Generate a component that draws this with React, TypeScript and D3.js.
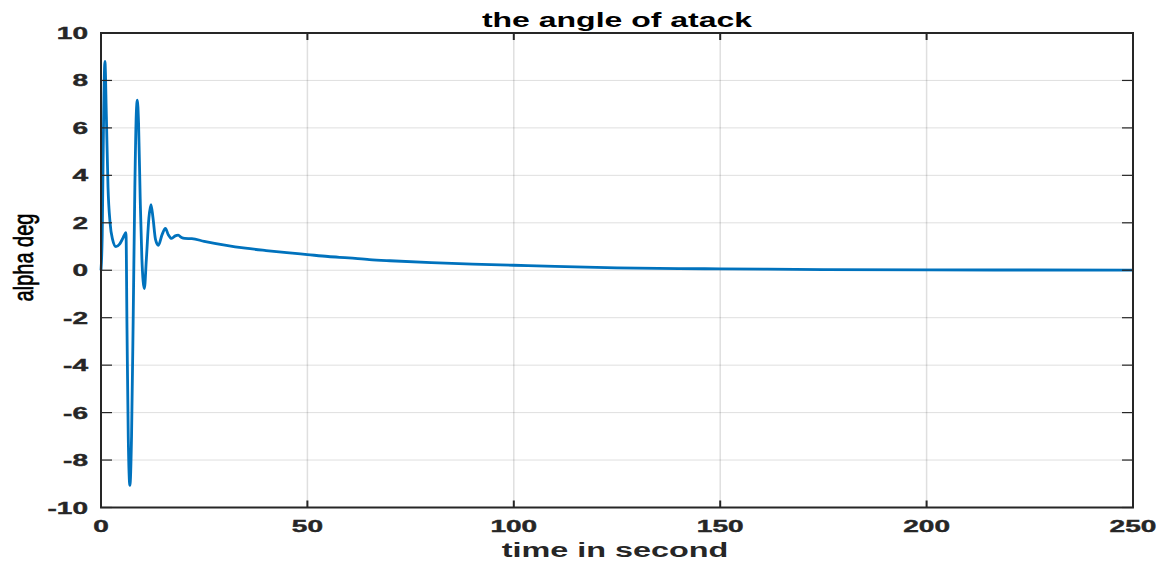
import React from "react";
import * as d3 from "d3";

const title = "the angle of atack";
const xLabel = "time in second";
const yLabel = "alpha deg";

const xTicks = [0, 50, 100, 150, 200, 250];
const yTicks = [-10, -8, -6, -4, -2, 0, 2, 4, 6, 8, 10];

const timeS = [
  0, 0.3, 0.6, 0.95, 1.3, 1.7, 2.2, 2.8, 3.6, 4.5, 5.3, 6.05, 6.3, 6.6, 7.0, 7.4, 7.8, 8.2, 8.55, 8.8,
  9.1, 9.5, 9.9, 10.5, 11.0, 11.6, 12.1, 12.6, 13.2, 13.9, 14.8, 15.6, 16.3, 17.1, 18.0, 18.7, 19.5,
  20.3, 22, 25, 30, 35, 40, 45, 50, 55, 60, 65, 70, 80, 90, 100, 110, 125, 140, 150, 175, 200, 225, 250,
];
const alphaDeg = [
  0, 1.5, 6.0, 8.8, 6.5, 3.5, 2.0, 1.3, 1.0, 1.1, 1.35, 1.59, -2.5, -7.0, -9.07, -7.0, -2.0, 3.5, 6.6, 7.17,
  6.2, 3.0, 0.5, -0.77, 0.5, 2.2, 2.77, 2.2, 1.3, 1.05, 1.5, 1.76, 1.5, 1.34, 1.45, 1.48, 1.38,
  1.34, 1.33, 1.22, 1.06, 0.93, 0.83, 0.74, 0.66, 0.58, 0.52, 0.45, 0.4, 0.32, 0.26, 0.21, 0.16, 0.1, 0.07, 0.06, 0.03, 0.015, 0.01, 0.005,
];

const W = 1166;
const H = 563;
const L = 101, R = 1133, T = 33, B = 507.5;
const SX = 1.65;

export default function App() {
  const x = d3.scaleLinear().domain([0, 250]).range([L, R]);
  const y = d3.scaleLinear().domain([-10, 10]).range([B, T]);
  const pts = timeS.map((t, i) => [t, alphaDeg[i]] as [number, number]);
  const line = d3
    .line<[number, number]>()
    .x((d) => x(d[0]))
    .y((d) => y(d[1]))
    .curve(d3.curveMonotoneX);
  const font = "'Liberation Sans', Arial, Helvetica, sans-serif";
  const dark = "#262626";
  return (
    <svg
      width={W}
      height={H}
      style={{ position: "absolute", left: 0, top: 0, background: "#fff" }}
      fontFamily={font}
    >
      <rect x={0} y={0} width={W} height={H} fill="#fff" />
      {xTicks.map((t) => (
        <line key={"gx" + t} x1={x(t)} x2={x(t)} y1={T} y2={B} stroke="#262626" strokeOpacity={0.15} strokeWidth={1.5} />
      ))}
      {yTicks.map((t) => (
        <line key={"gy" + t} x1={L} x2={R} y1={y(t)} y2={y(t)} stroke="#262626" strokeOpacity={0.15} strokeWidth={1} />
      ))}
      <path d={line(pts) || ""} fill="none" stroke="#0072BD" strokeWidth={2.8} strokeLinejoin="round" />
      {xTicks.map((t) => (
        <g key={"tx" + t}>
          <line x1={x(t)} x2={x(t)} y1={B} y2={B - 7} stroke={dark} strokeWidth={2} />
          <line x1={x(t)} x2={x(t)} y1={T} y2={T + 7} stroke={dark} strokeWidth={2} />
        </g>
      ))}
      {yTicks.map((t) => (
        <g key={"ty" + t}>
          <line x1={L} x2={L + 11} y1={y(t)} y2={y(t)} stroke={dark} strokeWidth={1.2} />
          <line x1={R} x2={R - 11} y1={y(t)} y2={y(t)} stroke={dark} strokeWidth={1.2} />
        </g>
      ))}
      <rect x={L} y={T} width={R - L} height={B - T} fill="none" stroke={dark} strokeWidth={2} />
      {yTicks.map((t) => (
        <text
          key={"ly" + t}
          transform={`translate(${L - 13},${y(t) + 6}) scale(${SX},1)`}
          textAnchor="end"
          fontSize={17}
          fontWeight="bold"
          fill={dark}
          stroke={dark}
          strokeWidth={0.4}
        >
          {t < 0 ? "-" + Math.abs(t) : String(t)}
        </text>
      ))}
      {xTicks.map((t) => (
        <text
          key={"lx" + t}
          transform={`translate(${x(t)},${532}) scale(${SX},1)`}
          textAnchor="middle"
          fontSize={17}
          fontWeight="bold"
          fill={dark}
          stroke={dark}
          strokeWidth={0.4}
        >
          {t}
        </text>
      ))}
      <text
        transform={`translate(${(L + R) / 2},27) scale(1.6,1)`}
        textAnchor="middle"
        fontSize={20}
        fontWeight="bold"
        fill="#000"
      >
        {title}
      </text>
      <text
        transform={`translate(${(L + R) / 2 - 2},556.5) scale(1.62,1)`}
        textAnchor="middle"
        fontSize={20}
        fontWeight="bold"
        fill={dark}
      >
        {xLabel}
      </text>
      <text
        transform={`translate(33,257.5) scale(1.35,1) rotate(-90)`}
        textAnchor="middle"
        fontSize={20}
        fill="#000"
        stroke="#000"
        strokeWidth={0.5}
      >
        {yLabel}
      </text>
    </svg>
  );
}
